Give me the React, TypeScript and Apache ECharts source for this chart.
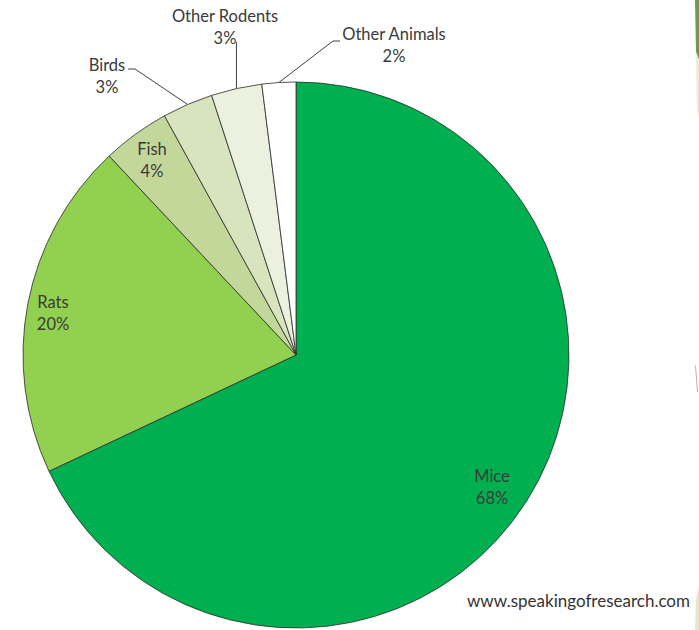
import React, { useEffect, useRef } from "react";
import * as echarts from "echarts";

const categories = ["Mice", "Rats", "Fish", "Birds", "Other Rodents", "Other Animals"];
const values = [68, 20, 4, 3, 3, 2];
const colors = ["#00B050", "#92D050", "#C4D79B", "#D7E4BD", "#EBF1DE", "#FFFFFF"];
const insideLabel = [true, true, true, false, false, false];

// layout
const CX = 296;
const CY = 355;
const R = 273;
const labelCenters: number[][] = [
  [492, 487],
  [53, 313],
  [152, 160],
  [107, 76],
  [225, 27],
  [394, 45],
];
const FONT = "Lato, 'Open Sans', sans-serif";

function edgePoint(i: number): number[] {
  const total = values.reduce((a, b) => a + b, 0);
  let before = 0;
  for (let k = 0; k < i; k++) before += values[k];
  const mid = ((before + values[i] / 2) / total) * Math.PI * 2;
  return [CX + Math.sin(mid) * R, CY - Math.cos(mid) * R];
}

function leader(i: number): number[][] | undefined {
  const s = edgePoint(i);
  if (i === 3) return [s, [135, 69], [128, 69]];
  if (i === 4) return [s, [s[0], 42]];
  if (i === 5) return [s, [333, 41], [340, 41]];
  return undefined;
}

export default function App() {
  const ref = useRef<HTMLDivElement>(null);
  useEffect(() => {
    if (!ref.current) return;
    const chart = echarts.init(ref.current, null, { renderer: "svg" });
    chart.setOption({
      animation: false,
      backgroundColor: "#ffffff",
      series: [
        {
          type: "pie",
          center: [CX, CY],
          radius: [0, R],
          startAngle: 90,
          clockwise: true,
          silent: true,
          itemStyle: { borderColor: "#2b2b2b", borderWidth: 0.8 },
          label: {
            show: true,
            formatter: "{b}\n{c}%",
            fontFamily: FONT,
            fontSize: 16.5,
            lineHeight: 22,
            color: "#3a3a3a",
            align: "center",
            overflow: "none",
            width: 200,
          },
          labelLine: { show: true, lineStyle: { color: "#404040", width: 1 } },
          labelLayout: (params: any) => {
            const i = params.dataIndex;
            const p = labelCenters[i];
            const out: any = { x: p[0], y: p[1], align: "center", verticalAlign: "middle" };
            const pts = leader(i);
            if (pts) out.labelLinePoints = pts;
            return out;
          },
          data: categories.map((name, i) => ({
            name,
            value: values[i],
            itemStyle: { color: colors[i] },
            label: { position: insideLabel[i] ? "inside" : "outside" },
            labelLine: { show: !insideLabel[i] },
          })),
        },
      ],
      graphic: [
        {
          type: "text",
          left: 467,
          top: 592,
          style: {
            text: "www.speakingofresearch.com",
            fontFamily: FONT,
            fontSize: 17,
            fill: "#333333",
          },
        },
        { type: "polygon", shape: { points: [[695, 0], [699, 0], [699, 60], [696, 52]] }, style: { fill: "#6A9D45" } },
        { type: "polygon", shape: { points: [[696, 52], [699, 60], [699, 118], [697, 110]] }, style: { fill: "#E4F0D2" } },
        { type: "polygon", shape: { points: [[695, 365], [696, 366], [698, 392], [697, 392]] }, style: { fill: "#B0B0B0" } },
        { type: "polygon", shape: { points: [[699, 585], [699, 630], [695, 630], [696, 600]] }, style: { fill: "#DCEDC6" } },
      ],
    });
    return () => chart.dispose();
  }, []);
  return (
    <div
      ref={ref}
      style={{ position: "absolute", left: 0, top: 0, width: 699, height: 630 }}
    />
  );
}
